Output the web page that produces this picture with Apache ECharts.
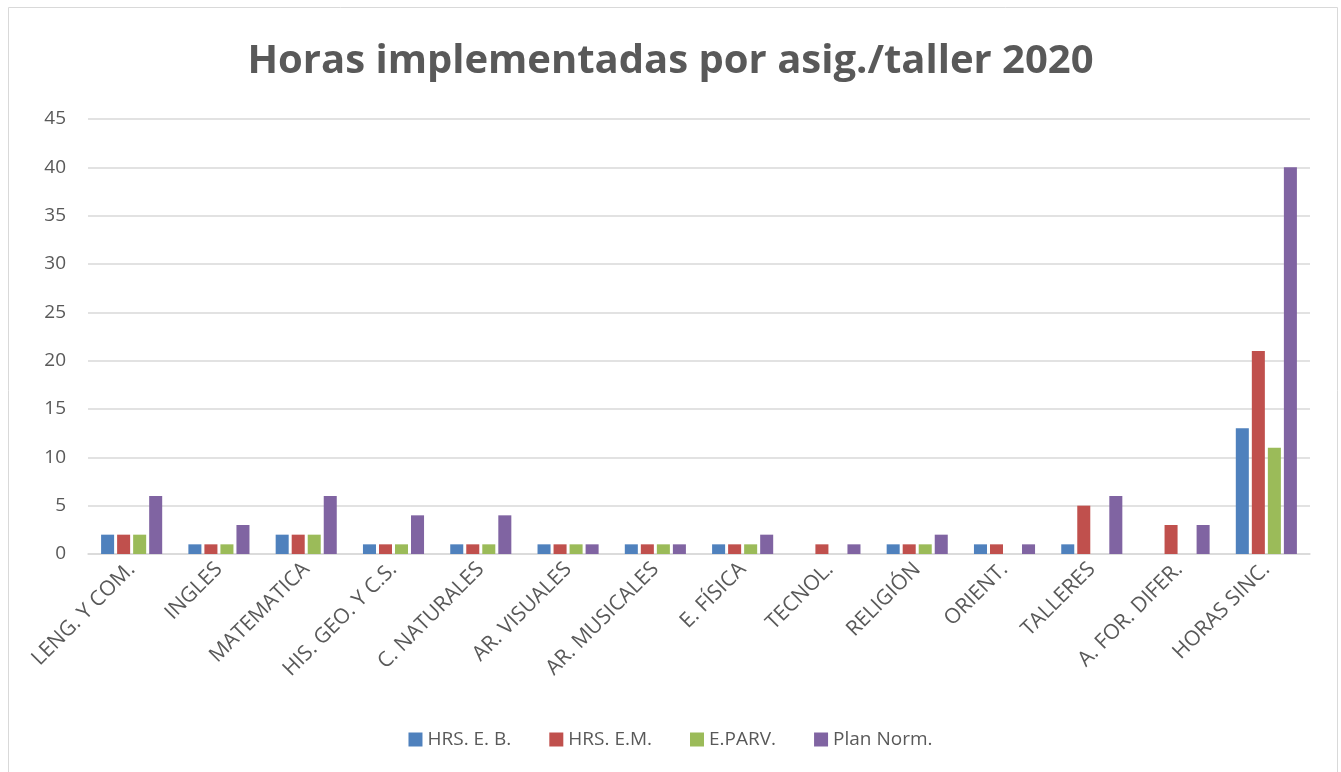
<!DOCTYPE html>
<html><head><meta charset="utf-8">
<script src="https://cdn.jsdelivr.net/npm/echarts@6/dist/echarts.min.js"></script>
<style>html,body{margin:0;padding:0;background:#fff;}#c{width:1341px;height:772px;}</style>
</head><body><div id="c"></div>
<script>
const categories = ['LENG. Y COM.','INGLES','MATEMATICA','HIS. GEO. Y C.S.','C. NATURALES','AR. VISUALES','AR. MUSICALES','E. FÍSICA','TECNOL.','RELIGIÓN','ORIENT.','TALLERES','A. FOR. DIFER.','HORAS SINC.'];
const hrsEB   = [2,1,2,1,1,1,1,1,null,1,1,1,null,13];
const hrsEM   = [2,1,2,1,1,1,1,1,1,1,1,5,3,21];
const eParv   = [2,1,2,1,1,1,1,1,null,1,null,null,null,11];
const planNorm= [6,3,6,4,4,1,1,2,1,2,1,6,3,40];
const seriesNames = ['HRS. E. B.','HRS. E.M.','E.PARV.','Plan Norm.'];
const colors = ['#4f81bd','#c0504d','#9bbb59','#8064a2'];
const font = 'Open Sans';
const chart = echarts.init(document.getElementById('c'));
const mk = (name, data, i) => ({
  name, type:'bar', data, barGap:'23%', barCategoryGap:'30%',
  itemStyle:{color:colors[i]}
});
chart.setOption({
  animation:false,
  textStyle:{fontFamily:font},
  title:{text:'Horas implementadas por asig./taller 2020', left:'center', top:37,
    textStyle:{fontFamily:font, fontSize:40, fontWeight:'bold', color:'#595959'}},
  graphic:[{type:'rect', shape:{x:8.5,y:7.5,width:1329,height:780}, style:{fill:null, stroke:'#d9d9d9', lineWidth:1}}],
  legend:{bottom:18, left:'center', itemWidth:14, itemHeight:14, itemGap:38, icon:'rect',
    textStyle:{fontFamily:font, fontSize:19, color:'#595959'}},
  grid:{left:88, right:31, top:119, bottom:218},
  xAxis:{type:'category', data:categories,
    axisLine:{lineStyle:{color:'#d9d9d9', width:1.5}}, axisTick:{show:false},
    axisLabel:{rotate:45, interval:0, fontFamily:font, fontSize:21, color:'#595959', margin:12}},
  yAxis:{type:'value', min:0, max:45, interval:5,
    axisLine:{show:false}, axisTick:{show:false},
    splitLine:{lineStyle:{color:'#d9d9d9', width:1.5}},
    axisLabel:{fontFamily:font, fontSize:19, color:'#595959', margin:22}},
  series:[mk(seriesNames[0],hrsEB,0), mk(seriesNames[1],hrsEM,1), mk(seriesNames[2],eParv,2), mk(seriesNames[3],planNorm,3)]
});
</script></body></html>
